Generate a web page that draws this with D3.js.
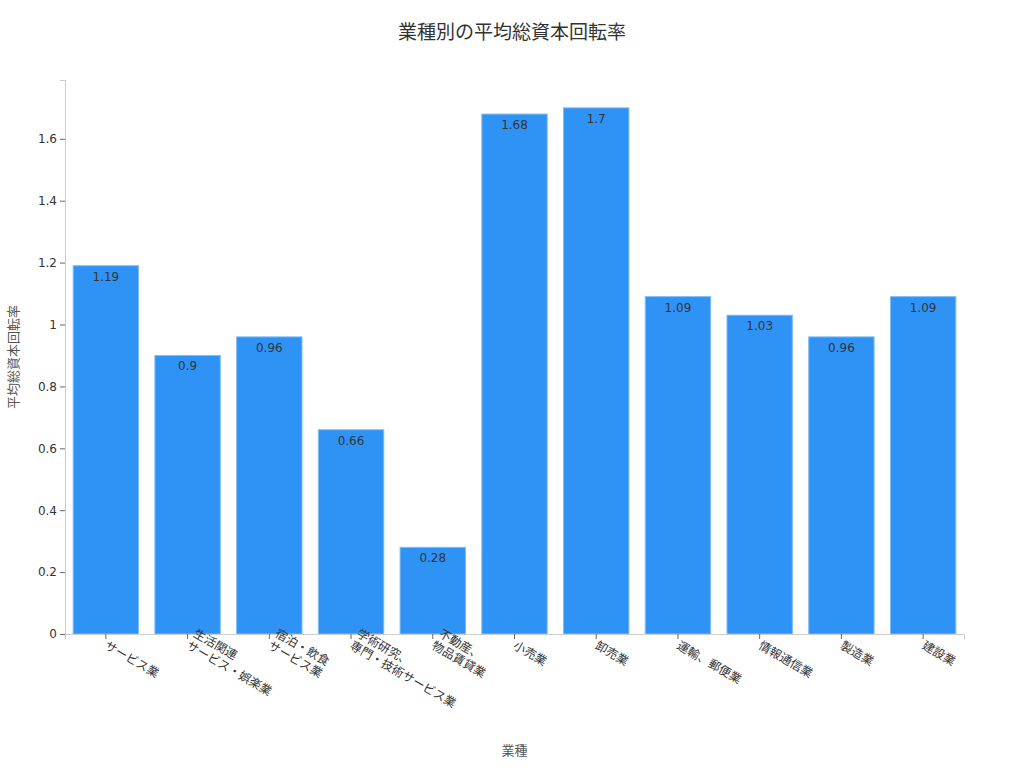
<!DOCTYPE html>
<html><head><meta charset="utf-8">
<script src="https://cdn.jsdelivr.net/npm/d3@7"></script>
<style>body{margin:0;background:#fff}text{font-family:"DejaVu Sans","Noto Sans CJK JP",sans-serif}</style>
</head><body><svg id="chart"></svg>
<script>
const categories = ['サービス業', '生活関連\nサービス・娯楽業', '宿泊・飲食\nサービス業', '学術研究、\n専門・技術サービス業', '不動産、\n物品賃貸業', '小売業', '卸売業', '運輸、郵便業', '情報通信業', '製造業', '建設業'];
const values = [1.19, 0.9, 0.96, 0.66, 0.28, 1.68, 1.7, 1.09, 1.03, 0.96, 1.09];
const yTicks = [0, 0.2, 0.4, 0.6, 0.8, 1, 1.2, 1.4, 1.6];

const W = 1024, H = 768;
const margin = { top: 80, right: 60, bottom: 134, left: 65 };
const width = W - margin.left - margin.right;
const height = H - margin.top - margin.bottom;

const svg = d3.select('#chart').attr('width', W).attr('height', H);
const g = svg.append('g').attr('transform', `translate(${margin.left},${margin.top})`);

const x = d3.scaleBand().domain(categories).range([0, width]).paddingInner(0.2).paddingOuter(0.1);
const y = d3.scaleLinear().domain([0, 1.79]).range([height, 0]);

// Y axis
const ya = g.append('g').call(d3.axisLeft(y).tickValues(yTicks).tickSize(5).tickFormat(d => d3.format('~g')(d)));
ya.select('.domain').attr('stroke', '#ccc');
ya.selectAll('.tick line').attr('stroke', '#666');
ya.selectAll('text').attr('fill', '#333').style('font-size', '12px');

// Bars
g.selectAll('rect.bar').data(values).join('rect')
  .attr('class', 'bar')
  .attr('x', (d, i) => x(categories[i]))
  .attr('y', d => y(d))
  .attr('width', x.bandwidth())
  .attr('height', d => height - y(d))
  .attr('fill', '#2f93f5')
  .attr('stroke', '#7fbcf7').attr('stroke-width', 1);

g.selectAll('text.val').data(values).join('text')
  .attr('class', 'val')
  .attr('x', (d, i) => x(categories[i]) + x.bandwidth() / 2)
  .attr('y', d => y(d) + 15)
  .attr('text-anchor', 'middle')
  .attr('fill', '#333').style('font-size', '12px')
  .text(d => d);

// X axis
const xa = g.append('g').attr('transform', `translate(0,${height})`)
  .call(d3.axisBottom(x).tickSize(5).tickFormat(''));
xa.select('.domain').attr('stroke', '#ccc');
xa.selectAll('.tick line').attr('stroke', '#666');
xa.selectAll('.tick').each(function (d) {
  const lines = d.split('\n');
  const t = d3.select(this).append('text')
    .attr('transform', 'translate(-2,14) rotate(30)')
    .attr('text-anchor', 'start')
    .attr('fill', '#333').style('font-size', '12px');
  lines.forEach((l, i) => {
    t.append('tspan').attr('x', -(lines.length - 1 - i) * 0 ).attr('dy', i === 0 ? -(lines.length - 1) * 14 + 'px' : '14px').text(l)
      .attr('x', 0);
  });
});

// Axis titles
svg.append('text').attr('x', margin.left + width / 2).attr('y', 755)
  .attr('text-anchor', 'middle').attr('fill', '#555').style('font-size', '13px').text('業種');
svg.append('text').attr('transform', `translate(18,${margin.top + height / 2}) rotate(-90)`)
  .attr('text-anchor', 'middle').attr('fill', '#555').style('font-size', '13px').text('平均総資本回転率');

// Title
svg.append('text').attr('x', W / 2).attr('y', 39).attr('text-anchor', 'middle')
  .attr('fill', '#333').style('font-size', '19px').text('業種別の平均総資本回転率');
</script></body></html>
